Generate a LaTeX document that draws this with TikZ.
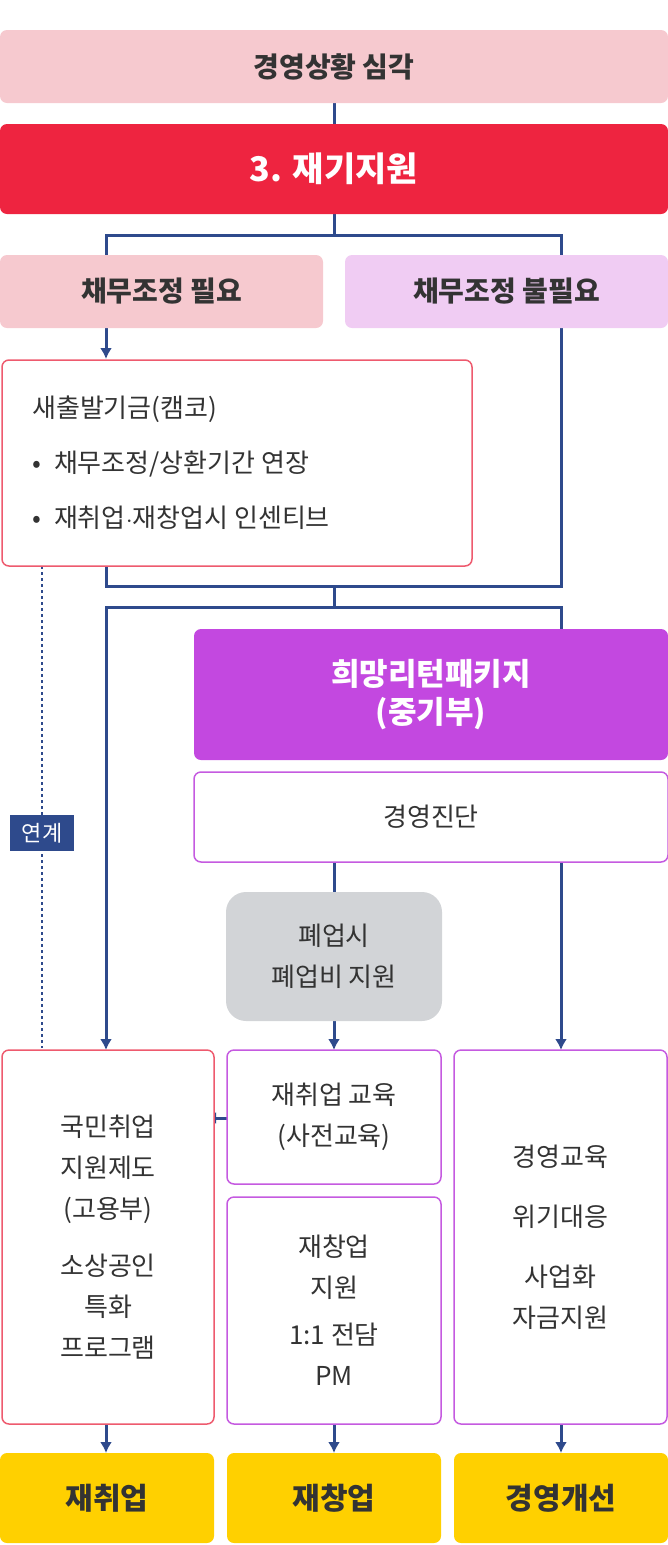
\documentclass[tikz,border=0pt]{standalone}
\usepackage{fontspec}
\setmainfont{Noto Sans CJK KR}
\usetikzlibrary{arrows.meta}
\definecolor{ln}{HTML}{2E4A8C}
\definecolor{pk}{HTML}{F6C9CF}
\definecolor{lp}{HTML}{F0CCF3}
\definecolor{rd}{HTML}{EE2440}
\definecolor{pu}{HTML}{C348E0}
\definecolor{pkb}{HTML}{EE5A6E}
\definecolor{pub}{HTML}{C55AE0}
\definecolor{gy}{HTML}{D2D4D7}
\definecolor{yl}{HTML}{FFD000}
\definecolor{tx}{HTML}{333333}
\tikzset{x=1pt,y=-1pt,
 bx/.style={inner sep=0pt,rounded corners=7pt,align=center,text=tx,font=\fontsize{26}{41}\selectfont},
 hd/.style={bx,font=\fontsize{28}{40}\selectfont\bfseries},
 wl/.style={line width=3pt,draw=ln},
 ar/.style={wl,-{Latex[length=11pt,width=12pt]}}}
\newcommand\bx[6]{\path (#2,#3) rectangle (#4,#5) node[#6,minimum width={#4-#2},minimum height={#5-#3}] (#1) at ({(#2+#4)/2},{(#3+#5)/2}) {};}
\begin{document}
\begin{tikzpicture}
\useasboundingbox (0,0) rectangle (668,1545);
% connectors first
\draw[wl] (334,103) -- (334,124);
\draw[wl] (334,214) -- (334,235) (106,255) -- (106,235) -- (561,235) -- (561,586) -- (106,586) -- (106,566);
\draw[ar] (106,328) -- (106,359);
\draw[wl] (334,586) -- (334,607);
\draw[ar] (561,629) |- (106,607) -- (106,1050);
\draw[wl] (334,862) -- (334,892);
\draw[ar] (334,1021) -- (334,1050);
\draw[ar] (561,862) -- (561,1050);
\draw[wl,dashed,line width=2pt] (42,566) -- (42,1048);
\foreach \xx in {106,334,561} \draw[ar] (\xx,1424) -- (\xx,1453);
\draw[ar] (227,1118) -- (205,1118);
% boxes
\node[hd,fill=pk,minimum width=668,minimum height=73] (a) at (334,66.5) {경영상황 심각};
\node[hd,fill=rd,text=white,minimum width=668,minimum height=90,font=\fontsize{34}{40}\selectfont\bfseries] (b) at (334,169) {3. 재기지원};
\node[hd,fill=pk,minimum width=323,minimum height=73] (c) at (161.5,291.5) {채무조정 필요};
\node[hd,fill=lp,minimum width=323,minimum height=73] (d) at (506.5,291.5) {채무조정 불필요};
\node[bx,draw=pkb,line width=1.5pt,fill=white,minimum width=470,minimum height=206] (e) at (237,463) {};
\node[bx,anchor=west,align=left,font=\fontsize{26}{55}\selectfont] (e1) at (32,463) {새출발기금(캠코)\\•\; 채무조정/상환기간 연장\\•\; 재취업$\cdot$재창업시 인센티브};
\node[hd,fill=pu,text=white,minimum width=474,minimum height=131,font=\fontsize{31}{38}\selectfont\bfseries] (f) at (431,694.5) {희망리턴패키지\\(중기부)};
\node[bx,draw=pub,line width=1.5pt,fill=white,minimum width=474,minimum height=90] (g) at (431,817) {경영진단};
\node[bx,fill=gy,rounded corners=20pt,minimum width=216,minimum height=129] (h) at (334,956.5) {폐업시\\폐업비 지원};
\node[bx,fill=ln,rounded corners=0pt,text=white,minimum width=64,minimum height=36,font=\fontsize{22}{26}\selectfont] (k) at (42,833) {연계};
\node[bx,draw=pkb,line width=1.5pt,fill=white,minimum width=212,minimum height=374] (l) at (108,1237) {국민취업\\지원제도\\(고용부)\\[16pt]소상공인\\특화\\프로그램};
\node[bx,draw=pub,line width=1.5pt,fill=white,minimum width=214,minimum height=134] (m) at (334,1117) {재취업 교육\\(사전교육)};
\node[bx,draw=pub,line width=1.5pt,fill=white,minimum width=214,minimum height=227] (n) at (334,1310.5) {재창업\\지원\\[6pt]1:1 전담\\PM};
\node[bx,draw=pub,line width=1.5pt,fill=white,minimum width=213,minimum height=374,font=\fontsize{26}{60}\selectfont] (o) at (560.5,1237) {경영교육\\위기대응\\사업화\\[-19pt]자금지원};
\node[hd,fill=yl,minimum width=214,minimum height=90,font=\fontsize{30}{40}\selectfont\bfseries] (p) at (107,1498) {재취업};
\node[hd,fill=yl,minimum width=214,minimum height=90,font=\fontsize{30}{40}\selectfont\bfseries] (q) at (334,1498) {재창업};
\node[hd,fill=yl,minimum width=214,minimum height=90,font=\fontsize{30}{40}\selectfont\bfseries] (r) at (561,1498) {경영개선};
\end{tikzpicture}
\end{document}
